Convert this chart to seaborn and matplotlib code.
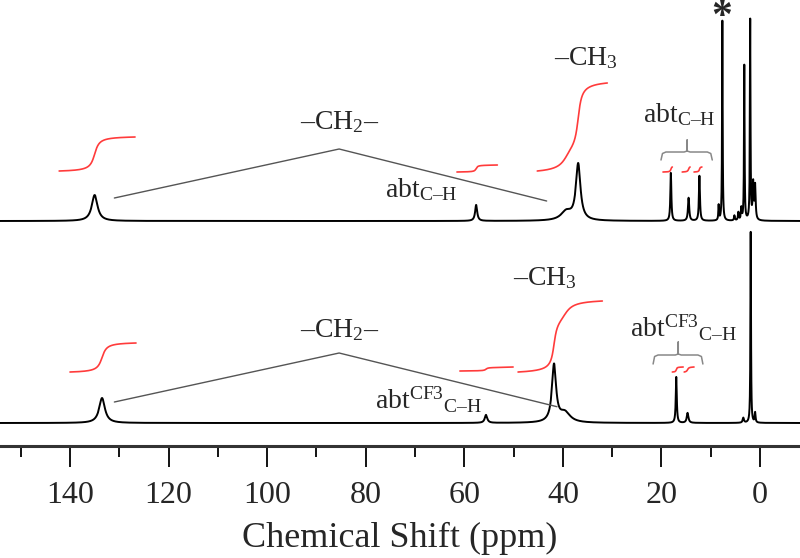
import numpy as np
import pandas as pd
import matplotlib
matplotlib.use("Agg")
import matplotlib.pyplot as plt
import seaborn as sns

sns.set_style("white")
plt.rcParams['font.family'] = ['Liberation Serif', 'DejaVu Serif']
plt.rcParams['mathtext.fontset'] = 'custom'
plt.rcParams['mathtext.rm'] = 'Liberation Serif'
plt.rcParams['mathtext.it'] = 'Liberation Serif:italic'
plt.rcParams['xtick.bottom'] = True

# ---------------- data ----------------
# top spectrum peaks: position (ppm), height, half width (ppm)
top_centers = [135.0, 57.6, 39.3, 36.9, 18.1, 14.5, 12.3, 8.4, 7.65, 5.2, 4.4, 3.8, 3.2, 2.0, 1.4, 1.0]
top_heights = [26, 16, 9, 56, 48, 23, 45, 15, 200, 5, 8, 12, 155, 200, 36, 34]
top_widths = [0.7, 0.25, 1.3, 0.55, 0.12, 0.15, 0.12, 0.08, 0.07, 0.1, 0.1, 0.1, 0.07, 0.07, 0.12, 0.12]
top_baseline = 225

# bottom spectrum peaks
bot_centers = [133.5, 55.6, 41.8, 39.6, 17.0, 14.7, 3.4, 1.9, 1.0]
bot_heights = [25, 8, 57, 10, 46, 10, 5, 191, 10]
bot_widths = [0.7, 0.3, 0.5, 1.3, 0.12, 0.2, 0.15, 0.07, 0.1]
bot_baseline = 23

# integral curves: (ppm start, ppm end, base level, rise)
top_integrals = [(142.2, 126.8, 275, 34), (61.5, 53.3, 274, 7), (45.2, 31.0, 275, 88),
                 (19.7, 17.8, 274, 5), (15.8, 14.2, 274, 5), (13.4, 11.8, 274, 5)]
bot_integrals = [(140.0, 126.6, 74, 29), (60.9, 50.1, 75, 4), (49.1, 32.0, 74, 71),
                 (17.8, 15.6, 74, 5), (15.4, 13.4, 74, 5)]

major_ticks = [140, 120, 100, 80, 60, 40, 20, 0]
minor_ticks = [150, 130, 110, 90, 70, 50, 30, 10]

# ---------------- build curves ----------------
ppm = np.linspace(-8.5, 155.0, 40000)


def spectrum(centers, heights, widths, base):
    y = np.full_like(ppm, float(base))
    for c, h, w in zip(centers, heights, widths):
        y += h / (1.0 + ((ppm - c) / w) ** 2)
    return y


top_y = spectrum(top_centers, top_heights, top_widths, top_baseline)
bot_y = spectrum(bot_centers, bot_heights, bot_widths, bot_baseline)

fig = plt.figure(figsize=(8, 5.58), dpi=100)
ax = fig.add_axes([0, 0.2007, 1, 0.7993])

df = pd.DataFrame({"ppm": np.concatenate([ppm, ppm]),
                   "I": np.concatenate([top_y, bot_y]),
                   "spec": ["top"] * len(ppm) + ["bottom"] * len(ppm)})
sns.lineplot(data=df, x="ppm", y="I", units="spec", estimator=None, sort=False,
             color="black", lw=1.4, ax=ax)


def integral(y, base, lo, hi, y0, rise):
    m = (ppm <= lo) & (ppm >= hi)
    xs = ppm[m][::-1]
    ys = (y[m] - base)[::-1]
    cum = np.cumsum(ys)
    cum = (cum - cum[0]) / (cum[-1] - cum[0])
    return xs, y0 + rise * cum


for (lo, hi, y0, rise) in top_integrals:
    xs, ys = integral(top_y, top_baseline, lo, hi, y0, rise)
    sns.lineplot(x=xs, y=ys, color="#ff3b3b", lw=1.2, estimator=None, sort=False, ax=ax)
for (lo, hi, y0, rise) in bot_integrals:
    xs, ys = integral(bot_y, bot_baseline, lo, hi, y0, rise)
    sns.lineplot(x=xs, y=ys, color="#ff3b3b", lw=1.2, estimator=None, sort=False, ax=ax)

# -CH2- guide lines
gray = "#555555"
ax.plot([131.0, 85.4, 43.3], [248, 297, 245], color=gray, lw=1.0)
ax.plot([131.0, 85.4, 41.2], [44, 93, 39.3], color=gray, lw=1.0)


def bracket(x0, x1, xm, ybar, yend, ytip):
    bx = [x0, x0 - 0.3, x0 - 1.0, xm + 0.6, xm, xm, xm, xm - 0.6, x1 + 1.0, x1 + 0.3, x1]
    by = [yend, ybar - 1.5, ybar, ybar, ybar + 1, ytip, ybar + 1, ybar, ybar, ybar - 1.5, yend]
    ax.plot(bx, by, color="#888888", lw=1.1)


bracket(20.1, 9.7, 14.8, 294, 286, 306)
bracket(21.7, 11.6, 16.6, 91, 82, 104)

fs = 20
ax.text(85.2, 324, "–CH$_2$–", ha="center", va="center", fontsize=fs)
ax.text(85.2, 116, "–CH$_2$–", ha="center", va="center", fontsize=fs)
ax.text(35.3, 388, "–CH$_3$", ha="center", va="center", fontsize=fs)
ax.text(43.6, 168, "–CH$_3$", ha="center", va="center", fontsize=fs)
ax.text(76.1, 256, "abt$_{\\mathrm{C–H}}$", ha="left", va="center", fontsize=fs)
ax.text(23.7, 331, "abt$_{\\mathrm{C–H}}$", ha="left", va="center", fontsize=fs)
ax.text(78.1, 46, "abt$^{\\mathrm{CF3}}{}_{\\mathrm{C–H}}$", ha="left", va="center", fontsize=fs)
ax.text(26.4, 118, "abt$^{\\mathrm{CF3}}{}_{\\mathrm{C–H}}$", ha="left", va="center", fontsize=fs)
ax.text(7.7, 428, "*", ha="center", va="center", fontsize=30, fontweight="bold")

ax.set_xlim(154.2, -8.1)
ax.set_ylim(0, 446)
ax.set_yticks([])
ax.set_xticks(major_ticks)
ax.set_xticks(minor_ticks, minor=True)
ax.set_xticklabels([str(t) for t in major_ticks], fontsize=23)
ax.tick_params(axis="x", which="both", bottom=True)
ax.tick_params(axis="x", which="major", direction="out", length=15, width=1.3, pad=10, color="black")
ax.tick_params(axis="x", which="minor", direction="out", length=8, width=1.3, color="black")
ax.set_xlabel("Chemical Shift (ppm)", fontsize=26, labelpad=9)
ax.set_ylabel("")
for s in ["top", "left", "right"]:
    ax.spines[s].set_visible(False)
ax.spines["bottom"].set_linewidth(2.2)
ax.spines["bottom"].set_color("#333333")
if ax.get_legend():
    ax.get_legend().remove()

fig.savefig("out.png", dpi=100)
